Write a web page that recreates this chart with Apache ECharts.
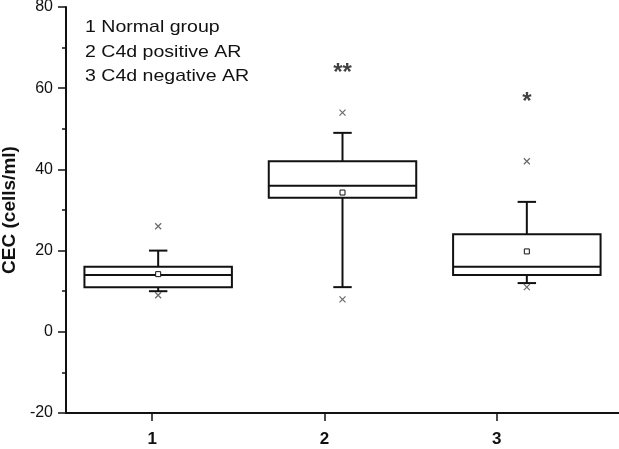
<!DOCTYPE html>
<html><head><meta charset="utf-8">
<script src="https://cdn.jsdelivr.net/npm/echarts@6/dist/echarts.min.js"></script>
<style>html,body{margin:0;padding:0;background:#fff}#c{width:619px;height:449px}</style>
</head><body><div id="c"></div>
<script>
// ---- data ----
var groups = [1, 2, 3];
var tickLabels = ['1', '2', '3'];
var whiskerLow = [10, 11, 12];
var q1 = [11, 33, 14];
var median = [14, 36, 16];
var q3 = [16, 42, 24];
var whiskerHigh = [20, 49, 32];
var mean = [14.2, 34.3, 19.8];
var outliers = [[1, 26], [1, 9], [2, 54], [2, 8], [3, 42], [3, 11]];
var significance = [[2, 64.6, '**'], [3, 57.4, '*']];
var legendLines = ['1 Normal group', '2 C4d positive AR', '3 C4d negative AR'];
var yTitle = 'CEC (cells/ml)';

var boxData = groups.map(function (g, i) {
  return [g, whiskerLow[i], q1[i], median[i], q3[i], whiskerHigh[i], mean[i]];
});

var chart = echarts.init(document.getElementById('c'), null, {renderer: 'canvas'});
var FONT = '"Liberation Sans", Arial, sans-serif';
var lineW = 2;

var option = {
  animation: false,
  backgroundColor: '#fff',
  grid: {left: 66, right: 0, top: 7, bottom: 36, containLabel: false, outerBoundsMode: 'none'},
  xAxis: [{
    type: 'value', min: 0.5, max: 3.71,
    axisLine: {show: true, onZero: false, lineStyle: {color: '#111', width: lineW}},
    axisTick: {show: true, length: 8, lineStyle: {color: '#111', width: 1.5}, customValues: groups},
    axisLabel: {show: true, margin: 18, color: '#111', fontFamily: FONT, fontSize: 17, fontWeight: 'bold',
      customValues: groups, formatter: function (v) { return tickLabels[groups.indexOf(v)]; }},
    splitLine: {show: false}
  }, {
    type: 'value', min: 0.5, max: 3.5, show: false
  }],
  yAxis: {
    type: 'value', min: -20, max: 80, interval: 20,
    name: yTitle, nameLocation: 'middle', nameGap: 47,
    nameTextStyle: {color: '#111', fontFamily: FONT, fontSize: 19, fontWeight: 'bold'},
    axisLine: {show: true, onZero: false, lineStyle: {color: '#111', width: lineW}},
    axisTick: {show: true, length: 8, lineStyle: {color: '#111', width: 1.5}},
    minorTick: {show: true, splitNumber: 2, length: 4, lineStyle: {color: '#111', width: 1.5}},
    axisLabel: {margin: 13, color: '#111', fontFamily: FONT, fontSize: 16},
    splitLine: {show: false}
  },
  graphic: legendLines.map(function (t, i) {
    return {type: 'text', left: 85, top: 19 + i * 24.6, scaleX: 1.15, silent: true,
      style: {text: t, fill: '#111', font: '17px ' + FONT}};
  }),
  series: [{
    type: 'custom', xAxisIndex: 1, yAxisIndex: 0,
    data: boxData,
    renderItem: function (params, api) {
      var x = api.value(0);
      var pLo = api.coord([x, api.value(1)]);
      var pQ1 = api.coord([x, api.value(2)]);
      var pMed = api.coord([x, api.value(3)]);
      var pQ3 = api.coord([x, api.value(4)]);
      var pHi = api.coord([x, api.value(5)]);
      var pMean = api.coord([x, api.value(6)]);
      var w = api.size([0.8, 0])[0];
      var cap = api.size([0.1, 0])[0];
      var cx = pMed[0];
      var st = {stroke: '#111', lineWidth: lineW, fill: null};
      return {type: 'group', children: [
        {type: 'line', shape: {x1: cx, y1: pQ3[1], x2: cx, y2: pHi[1]}, style: st},
        {type: 'line', shape: {x1: cx, y1: pQ1[1], x2: cx, y2: pLo[1]}, style: st},
        {type: 'line', shape: {x1: cx - cap / 2, y1: pHi[1], x2: cx + cap / 2, y2: pHi[1]}, style: st},
        {type: 'line', shape: {x1: cx - cap / 2, y1: pLo[1], x2: cx + cap / 2, y2: pLo[1]}, style: st},
        {type: 'rect', shape: {x: cx - w / 2, y: pQ3[1], width: w, height: pQ1[1] - pQ3[1]},
          style: {stroke: '#111', lineWidth: lineW, fill: '#fff'}},
        {type: 'line', shape: {x1: cx - w / 2, y1: pMed[1], x2: cx + w / 2, y2: pMed[1]}, style: st},
        {type: 'rect', shape: {x: cx - 2.5, y: pMean[1] - 2.5, width: 5, height: 5},
          style: {stroke: '#111', lineWidth: 1, fill: '#fff'}}
      ]};
    }
  }, {
    type: 'scatter', xAxisIndex: 1, yAxisIndex: 0,
    data: outliers,
    symbol: 'path://M0,0L10,10M10,0L0,10',
    symbolSize: 6,
    itemStyle: {color: 'none', borderColor: '#444', borderWidth: 1.2}
  }, {
    type: 'scatter', xAxisIndex: 1, yAxisIndex: 0,
    data: significance,
    symbolSize: 0,
    label: {show: true, position: 'inside', offset: [0, 4],
      formatter: function (p) { return p.data[2]; },
      color: '#111', fontFamily: FONT, fontSize: 24, fontWeight: 'bold'}
  }]
};
chart.setOption(option);
</script></body></html>
